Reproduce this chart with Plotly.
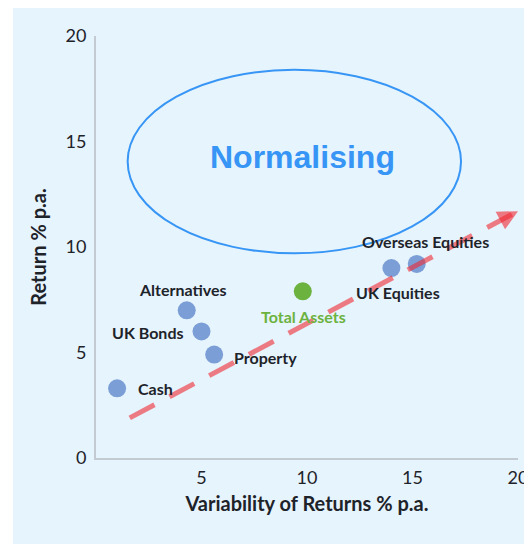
import plotly.graph_objects as go

# asset classes: variability (x) vs return (y), % p.a.
assets = ["Cash", "Alternatives", "UK Bonds", "Property", "UK Equities", "Overseas Equities"]
variability = [1.0, 4.3, 5.0, 5.6, 14.0, 15.2]
returns = [3.3, 7.0, 6.0, 4.9, 9.0, 9.2]

total_label = "Total Assets"
total_variability = [9.8]
total_return = [7.9]

# dashed trend arrow (start, end)
trend_x = [1.6, 20.0]
trend_y = [1.9, 11.7]

# "Normalising" ellipse bounds
zone_x = [1.5, 17.3]
zone_y = [9.7, 18.4]
zone_label = "Normalising"

x_ticks = [5, 10, 15, 20]
y_ticks = [0, 5, 10, 15, 20]

# label placement relative to each dot: (xanchor, xshift px, yshift px)
LABEL_STYLE = {
    "Cash": ("left", 19, 0),
    "Alternatives": ("center", -4, 21),
    "UK Bonds": ("right", -16, -1),
    "Property": ("left", 18, -3),
    "UK Equities": ("center", 7, -24),
    "Overseas Equities": ("center", 9, 22),
}

BLUE_DOT = "#7B9ED6"
GREEN = "#6CB23E"
RED = "rgba(240,40,50,0.6)"
ZONE = "#3795F5"
BG = "#E6F4FD"
INK = "#1E232A"

fig = go.Figure()

fig.add_trace(go.Scatter(
    x=variability, y=returns, mode="markers",
    marker=dict(size=18, color=BLUE_DOT),
    text=assets, hoverinfo="text+x+y",
    showlegend=False,
))

for name, vx, vy in zip(assets, variability, returns):
    anchor, dx, dy = LABEL_STYLE[name]
    fig.add_annotation(
        x=vx, y=vy, text="<b>" + name + "</b>", showarrow=False,
        xanchor=anchor, xshift=dx, yshift=dy,
        font=dict(family="Lato", size=16, color=INK),
    )

fig.add_trace(go.Scatter(
    x=total_variability, y=total_return, mode="markers",
    marker=dict(size=18, color=GREEN),
    showlegend=False,
))

fig.add_annotation(
    x=total_variability[0], y=total_return[0], text="<b>" + total_label + "</b>",
    showarrow=False, xshift=1, yshift=-25,
    font=dict(family="Lato", size=16, color=GREEN),
)

# trend line (dashed red) drawn over the labels as in the original
fig.add_shape(
    type="line", xref="x", yref="y", layer="above",
    x0=trend_x[0], y0=trend_y[0], x1=trend_x[1], y1=trend_y[1],
    line=dict(color=RED, width=5, dash="28px,17px"),
)

# arrow head at the end of the trend line
fig.add_annotation(
    x=trend_x[1], y=trend_y[1], ax=trend_x[1] - 0.6, ay=trend_y[1] - 0.32,
    xref="x", yref="y", axref="x", ayref="y",
    text="", showarrow=True, arrowhead=2, arrowsize=1.0, arrowwidth=4,
    arrowcolor=RED,
)

fig.add_shape(
    type="circle", xref="x", yref="y",
    x0=zone_x[0], x1=zone_x[1], y0=zone_y[0], y1=zone_y[1],
    line=dict(color=ZONE, width=2),
)
fig.add_annotation(
    x=(zone_x[0] + zone_x[1]) / 2 + 0.4, y=(zone_y[0] + zone_y[1]) / 2 + 0.2,
    text="<b>" + zone_label + "</b>", showarrow=False,
    font=dict(family="Liberation Sans", size=32, color=ZONE),
)

# light blue panel behind the whole chart
fig.add_shape(
    type="rect", xref="paper", yref="paper", layer="below",
    x0=-0.197, x1=1.1, y0=-0.25, y1=1.073,
    fillcolor=BG, line=dict(width=0),
)

fig.update_xaxes(
    range=[0, 20], tickvals=x_ticks, showgrid=False, zeroline=False,
    showline=True, linecolor="#C3CAD2", linewidth=2, automargin=False,
    ticks="outside", ticklen=2, tickcolor="rgba(0,0,0,0)",
    tickfont=dict(family="Lato", size=18, color=INK),
    title=dict(text="<b>Variability of Returns % p.a.</b>", standoff=10,
               font=dict(family="Lato", size=20, color=INK)),
)
fig.update_yaxes(
    range=[0, 20], tickvals=y_ticks, showgrid=False, zeroline=False,
    showline=True, linecolor="#C3CAD2", linewidth=2, automargin=False,
    ticks="outside", ticklen=4, tickcolor="rgba(0,0,0,0)",
    tickfont=dict(family="Lato", size=18, color=INK),
    title=dict(text="<b>Return % p.a.</b>", standoff=14,
               font=dict(family="Lato", size=20, color=INK)),
)

# page body adds an 8px offset, so the figure is 8px smaller
fig.update_layout(
    width=524, height=536,
    margin=dict(l=88, r=14, t=28, b=86),
    paper_bgcolor="white", plot_bgcolor=BG,
    font=dict(family="Lato"),
)

fig.write_html("out.html")
